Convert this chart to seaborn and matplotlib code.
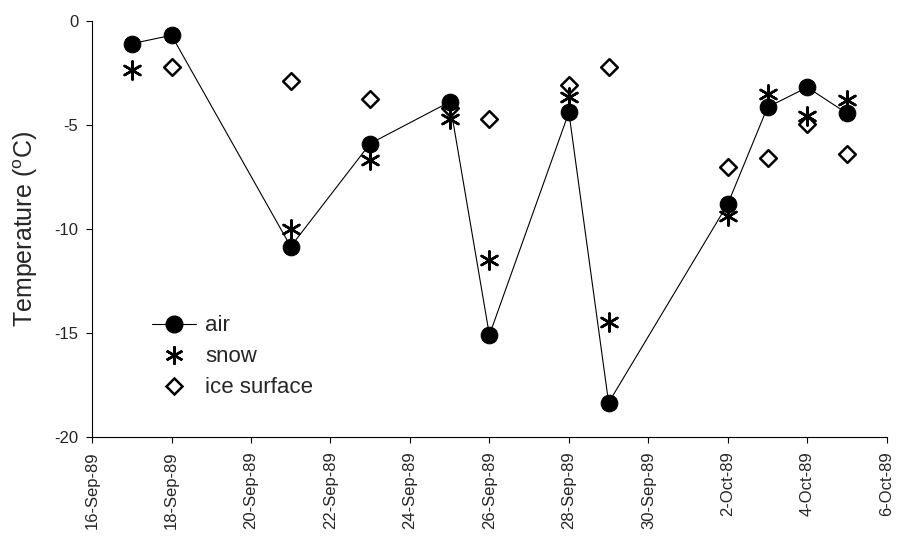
import numpy as np
import pandas as pd
import matplotlib
matplotlib.use("Agg")
import matplotlib.pyplot as plt
from matplotlib.lines import Line2D
import seaborn as sns

dates = ["1989-09-17", "1989-09-18", "1989-09-21", "1989-09-23", "1989-09-25",
         "1989-09-26", "1989-09-28", "1989-09-29", "1989-10-02", "1989-10-03",
         "1989-10-04", "1989-10-05"]
air = [-1.1, -0.7, -10.85, -5.9, -3.9, -15.1, -4.4, -18.35, -8.8, -4.15, -3.2, -4.45]
snow = [-2.35, np.nan, -10.0, -6.7, -4.7, -11.5, -3.65, -14.45, -9.4, -3.5, -4.6, -3.8]
ice = [np.nan, -2.2, -2.9, -3.75, -4.2, -4.7, -3.1, -2.2, -7.05, -6.6, -4.95, -6.4]
xtick_dates = ["1989-09-16", "1989-09-18", "1989-09-20", "1989-09-22", "1989-09-24",
               "1989-09-26", "1989-09-28", "1989-09-30", "1989-10-02", "1989-10-04",
               "1989-10-06"]
xtick_labels = ["16-Sep-89", "18-Sep-89", "20-Sep-89", "22-Sep-89", "24-Sep-89",
                "26-Sep-89", "28-Sep-89", "30-Sep-89", "2-Oct-89", "4-Oct-89", "6-Oct-89"]
yticks = [0, -5, -10, -15, -20]
legend_labels = ["air", "snow", "ice surface"]

df = pd.DataFrame({"date": pd.to_datetime(dates), "air": air, "snow": snow, "ice": ice})

sns.set_theme(style="ticks")
plt.rcParams["font.family"] = ["Liberation Sans", "DejaVu Sans"]
plt.rcParams["mathtext.fontset"] = "custom"
plt.rcParams["mathtext.rm"] = "Liberation Sans"

fig = plt.figure(figsize=(8.97, 5.42), dpi=100)
ax = fig.add_axes([0.1026, 0.1937, 0.886, 0.768])

asterisk = (6, 2, 0)
sns.lineplot(data=df, x="date", y="air", ax=ax, color="black", linewidth=0.8,
             marker="o", markersize=12, markeredgecolor="black", markerfacecolor="black", zorder=3)
sns.scatterplot(data=df, x="date", y="snow", ax=ax, marker=asterisk, s=170,
                color="black", linewidth=1.8, edgecolor="black", zorder=4)
sns.scatterplot(data=df, x="date", y="ice", ax=ax, marker="D", s=72,
                facecolor="white", edgecolor="black", linewidth=1.8, zorder=2)

ax.set_xlim(pd.Timestamp(xtick_dates[0]), pd.Timestamp(xtick_dates[-1]))
ax.set_ylim(-20, 0)
ax.set_xticks(pd.to_datetime(xtick_dates))
ax.set_xticklabels(xtick_labels, rotation=90, fontsize=12)
ax.set_yticks(yticks)
ax.set_yticklabels([str(v) for v in yticks], fontsize=12)
ax.tick_params(axis="both", direction="out", length=4, width=0.8, color="black", pad=6)
ax.set_xlabel("")
ax.set_ylabel("Temperature ($^\\mathrm{o}$C)", fontsize=18, labelpad=10)
sns.despine(ax=ax)
for s in ["left", "bottom"]:
    ax.spines[s].set_color("black")
    ax.spines[s].set_linewidth(0.8)

handles = [
    Line2D([], [], color="black", linewidth=0.8, marker="o", markersize=12,
           markerfacecolor="black", markeredgecolor="black"),
    Line2D([], [], color="black", linestyle="none", marker=asterisk, markersize=13,
           markeredgewidth=1.8),
    Line2D([], [], color="black", linestyle="none", marker="D", markersize=8.5,
           markerfacecolor="white", markeredgewidth=1.8),
]
ax.legend(handles, legend_labels, loc="upper left", bbox_to_anchor=(0.05, 0.34),
          frameon=False, fontsize=16, handlelength=2.0, handletextpad=0.4,
          labelspacing=0.45)

fig.savefig("out.png", dpi=100)
